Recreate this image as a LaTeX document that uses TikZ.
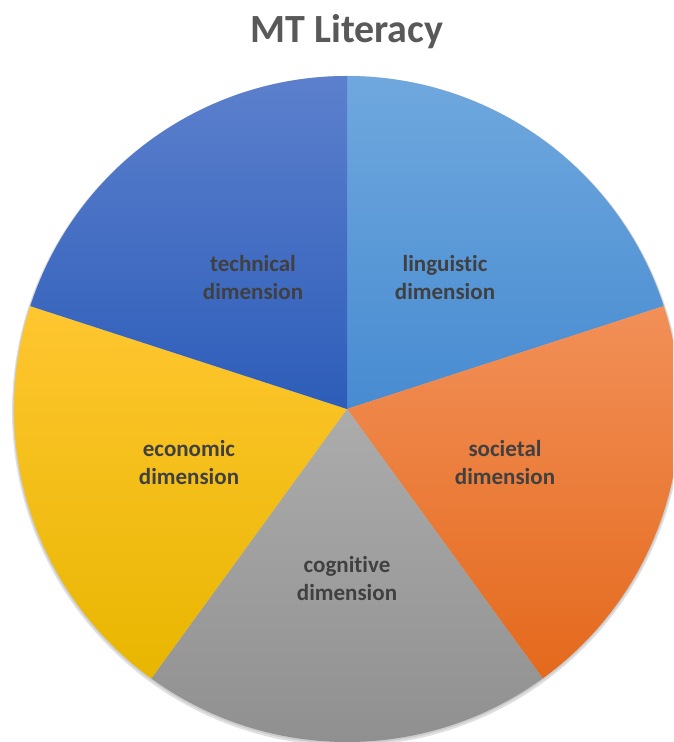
\documentclass[tikz,border=0pt]{standalone}
\usepackage{fontspec}
\setmainfont{Carlito}[Ligatures={NoCommon,NoRare,NoContextual}]
\definecolor{titlegray}{HTML}{595959}
\definecolor{labgray}{HTML}{404040}
\definecolor{lingTop}{HTML}{6FA8DE}
\definecolor{lingBot}{HTML}{478BD1}
\definecolor{socTop}{HTML}{F29058}
\definecolor{socBot}{HTML}{E4691C}
\definecolor{cogTop}{HTML}{ACACAC}
\definecolor{cogBot}{HTML}{8E8E8E}
\definecolor{ecoTop}{HTML}{FFC630}
\definecolor{ecoBot}{HTML}{E8B600}
\definecolor{techTop}{HTML}{5C80CD}
\definecolor{techBot}{HTML}{2D5DB9}
\tikzset{
  lab/.style={font=\fontsize{23}{28}\selectfont\bfseries, text=labgray, align=center},
}
\begin{document}
\begin{tikzpicture}[x=1pt,y=1pt]
\useasboundingbox (0,0) rectangle (673,742);
\fill[white] (0,0) rectangle (673,742);
\clip (0,0) rectangle (673,742);
\coordinate (c) at (347,333);
\def\R{333}
% soft shadow
\fill[black!12] ([yshift=-2]c) circle (\R+2);
\fill[black!20] ([yshift=-1]c) circle (\R+0.8);
% slices
\shade[top color=lingTop, bottom color=lingBot] (c) -- ++(90:\R) arc (90:18:\R) -- cycle;
\shade[top color=socTop, bottom color=socBot] (c) -- ++(18:\R) arc (18:-54:\R) -- cycle;
\shade[top color=cogTop, bottom color=cogBot] (c) -- ++(-54:\R) arc (-54:-126:\R) -- cycle;
\shade[top color=ecoTop, bottom color=ecoBot] (c) -- ++(-126:\R) arc (-126:-198:\R) -- cycle;
\shade[top color=techTop, bottom color=techBot] (c) -- ++(162:\R) arc (162:90:\R) -- cycle;
% title
\node[font=\fontsize{40}{48}\selectfont\bfseries, text=titlegray] (title) at (347,710) {MT Literacy};
% labels
\node[lab] (ling) at (445,464) {linguistic\\dimension};
\node[lab] (tech) at (253,464) {technical\\dimension};
\node[lab] (soc) at (505,279) {societal\\dimension};
\node[lab] (eco) at (189,279) {economic\\dimension};
\node[lab] (cog) at (347,163) {cognitive\\dimension};
\end{tikzpicture}
\end{document}
